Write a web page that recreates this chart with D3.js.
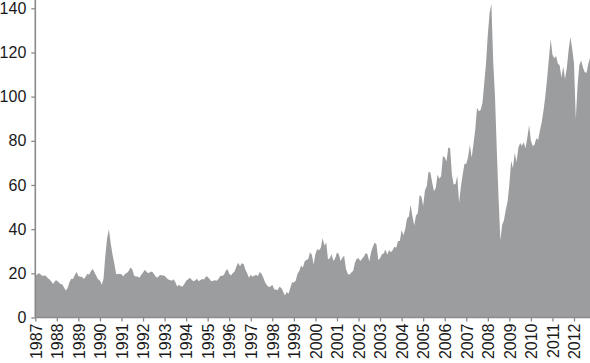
<!DOCTYPE html>
<html>
<head>
<meta charset="utf-8">
<script src="https://cdn.jsdelivr.net/npm/d3@7"></script>
<style>
  html, body { margin: 0; padding: 0; background: #fff; }
  svg { display: block; }
  text { font-family: "Liberation Sans", Arial, Helvetica, sans-serif; }
</style>
</head>
<body>
<svg id="chart" width="590" height="363"></svg>
<script>
// Monthly price levels (upper envelope of daily series), first value = start of series
const startYear = 1987;
const prices1987 = [19.2, 19.4, 20.2, 19.5, 18.8, 19.0, 18.8, 17.8];
const prices1988 = [17.2, 16.2, 15.2, 16.6, 16.8, 16.0, 15.2, 15.0, 13.6, 12.2, 13.4, 16.0];
const prices1989 = [17.6, 17.4, 19.2, 20.6, 18.8, 18.4, 18.4, 17.4, 18.4, 19.8, 19.4, 21.0];
const prices1990 = [22.0, 20.4, 18.8, 17.2, 16.8, 14.8, 17.6, 28.0, 36.0, 40.0, 33.5, 28.5];
const prices1991 = [24.5, 19.8, 19.6, 19.8, 19.6, 18.6, 19.8, 20.2, 21.0, 22.6, 21.8, 19.0];
const prices1992 = [18.6, 18.6, 18.0, 19.4, 20.4, 21.6, 20.6, 20.0, 20.6, 20.8, 19.8, 18.6];
const prices1993 = [18.0, 19.0, 19.2, 19.0, 18.9, 18.0, 17.2, 17.0, 16.6, 17.3, 16.0, 14.0];
const prices1994 = [14.8, 14.2, 14.0, 15.2, 16.6, 17.2, 18.0, 17.2, 16.4, 16.8, 17.6, 16.4];
const prices1995 = [17.0, 17.4, 17.2, 18.6, 18.4, 17.4, 16.4, 16.6, 16.9, 16.6, 17.4, 18.8];
const prices1996 = [18.9, 19.2, 21.0, 22.0, 19.8, 19.0, 20.2, 20.8, 23.2, 24.8, 23.2, 24.6];
const prices1997 = [24.2, 21.6, 20.0, 18.0, 19.4, 18.4, 19.0, 19.2, 18.8, 20.6, 19.8, 18.0];
const prices1998 = [15.8, 14.6, 13.8, 14.0, 14.8, 12.8, 12.6, 12.4, 13.9, 13.4, 11.8, 10.0];
const prices1999 = [11.6, 10.8, 13.4, 16.0, 15.8, 16.6, 19.8, 21.0, 23.4, 22.6, 25.4, 26.2];
const prices2000 = [26.4, 29.6, 28.4, 24.0, 28.8, 31.0, 30.4, 31.6, 36.0, 32.6, 34.0, 26.4];
const prices2001 = [26.8, 28.6, 25.6, 26.8, 29.4, 28.8, 25.6, 27.0, 28.0, 22.0, 19.8, 19.4];
const prices2002 = [20.4, 21.0, 24.8, 26.6, 26.8, 25.6, 26.6, 27.6, 29.2, 28.6, 25.4, 29.6];
const prices2003 = [32.0, 34.0, 33.0, 26.0, 26.8, 28.6, 29.0, 30.8, 28.4, 30.6, 29.6, 30.4];
const prices2004 = [32.0, 31.6, 34.6, 34.6, 39.6, 37.2, 40.0, 44.8, 45.6, 51.0, 46.0, 41.6];
const prices2005 = [46.2, 47.2, 55.4, 54.8, 50.6, 57.6, 59.4, 66.0, 65.6, 61.2, 57.2, 58.6];
const prices2006 = [64.6, 62.8, 64.0, 73.0, 72.6, 70.6, 77.0, 76.6, 64.6, 60.2, 60.4, 64.2];
const prices2007 = [52.0, 59.2, 64.6, 69.6, 69.6, 72.6, 78.2, 72.4, 78.4, 85.0, 95.0, 93.4];
const prices2008 = [94.0, 97.0, 106.0, 115.0, 128.0, 138.0, 142.0, 116.0, 100.0, 76.0, 54.0, 35.0];
const prices2009 = [42.0, 44.0, 48.8, 52.4, 60.2, 71.0, 67.6, 74.6, 70.4, 76.8, 79.0, 77.8];
const prices2010 = [79.4, 76.6, 81.4, 87.0, 80.0, 77.6, 78.2, 81.2, 80.4, 84.6, 88.4, 93.6];
const prices2011 = [100.0, 108.0, 117.0, 126.0, 119.0, 117.4, 118.4, 115.0, 114.2, 108.6, 113.6, 108.0];
const prices2012 = [113.0, 121.0, 127.0, 121.6, 115.0, 90.0, 105.4, 114.4, 116.4, 113.2, 111.0, 110.8];
const prices2013 = [115.0, 117.6];

const prices = [].concat(prices1987, prices1988, prices1989, prices1990, prices1991,
  prices1992, prices1993, prices1994, prices1995, prices1996, prices1997, prices1998,
  prices1999, prices2000, prices2001, prices2002, prices2003, prices2004, prices2005,
  prices2006, prices2007, prices2008, prices2009, prices2010, prices2011, prices2012,
  prices2013);

const yearTicks = d3.range(1987, 2013);
const valueTicks = [0, 20, 40, 60, 80, 100, 120, 140];

const svg = d3.select("#chart");

const x = d3.scaleLinear().domain([1987, 2012]).range([35.3, 574]);
const y = d3.scaleLinear().domain([0, 140]).range([317.5, 8.3]);

const series = prices.map((v, i) => ({ t: startYear + i / 12, v: v }));

const area = d3.area()
  .x(d => x(d.t))
  .y0(y(0))
  .y1(d => y(d.v));

svg.append("path")
  .datum(series)
  .attr("d", area)
  .attr("fill", "#9c9d9f");

const axisColor = "#8a8a8a";

// Y axis
const gy = svg.append("g")
  .attr("transform", `translate(${x(1987)},0)`)
  .call(d3.axisLeft(y).tickValues(valueTicks).tickSize(4).tickPadding(5).tickFormat(d3.format("d")));
gy.select(".domain").remove();
gy.selectAll(".tick line").attr("stroke", axisColor).attr("stroke-width", 1.3);
gy.selectAll(".tick text").attr("fill", "#1a1a1a").style("font-size", "16px");
gy.append("line")
  .attr("x1", 0).attr("x2", 0)
  .attr("y1", 0).attr("y2", y(0))
  .attr("stroke", axisColor).attr("stroke-width", 1.6);

// X axis
const gx = svg.append("g")
  .attr("transform", `translate(0,${y(0)})`)
  .call(d3.axisBottom(x).tickValues(yearTicks).tickSize(4).tickFormat(d3.format("d")));
gx.select(".domain").remove();
gx.append("line")
  .attr("x1", x(1987)).attr("x2", 590)
  .attr("y1", 0).attr("y2", 0)
  .attr("stroke", axisColor).attr("stroke-width", 1.6);
gx.selectAll(".tick line").attr("stroke", axisColor).attr("stroke-width", 1.3);
gx.selectAll(".tick text")
  .attr("fill", "#1a1a1a")
  .style("font-size", "16px")
  .attr("text-anchor", "end")
  .attr("transform", "rotate(-90)")
  .attr("x", -6)
  .attr("y", 0)
  .attr("dy", "0.36em");
</script>
</body>
</html>
